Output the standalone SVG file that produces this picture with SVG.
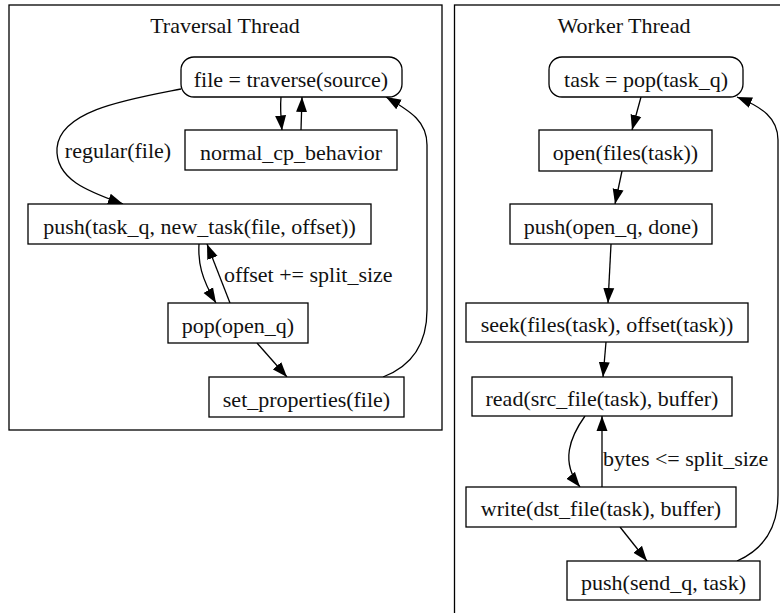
<svg xmlns="http://www.w3.org/2000/svg" width="780" height="613" viewBox="0 0 780 613">
<style>
  .cl{fill:none;stroke:#000;stroke-width:1.3}
  .nd{fill:#fff;stroke:#000;stroke-width:1.3}
  .t{font-family:"Liberation Serif","Times New Roman",serif;font-size:22px;fill:#111;text-anchor:middle}
  .lb{font-family:"Liberation Serif","Times New Roman",serif;font-size:22px;fill:#111}
  .e{fill:none;stroke:#000;stroke-width:1.3;marker-end:url(#ah)}
</style>
<defs>
  <marker id="ah" markerUnits="userSpaceOnUse" markerWidth="16" markerHeight="12" refX="15" refY="6" orient="auto">
    <path d="M0,0.5 L15,6 L0,11.5 z" fill="#000"/>
  </marker>
</defs>
<rect width="780" height="613" fill="#fff"/>
<g id="cluster_traversal">
  <rect class="cl" x="9" y="5" width="433" height="425"/>
  <text class="t" x="225" y="33">Traversal Thread</text>
</g>
<g id="cluster_worker">
  <rect class="cl" x="454.5" y="5" width="360" height="650"/>
  <text class="t" x="624" y="33">Worker Thread</text>
</g>
<g id="connectors">
  <path class="e" d="M281,97 C280,108 281,120 282,130.5"/>
  <path class="e" d="M301,130 L302,97"/>
  <path class="e" d="M181,89 C130,99 60,110 57,148 C55,180 90,192 123,204"/>
  <path class="e" d="M199,244 C198,262 201,278 216,303"/>
  <path class="e" d="M230,303 L207,244"/>
  <path class="e" d="M257,343 L287,377"/>
  <path class="e" d="M383,377 C412,366 427,345 427,310 L427,145 C427,122 412,112 386,97"/>
  <path class="e" d="M641,97 L632,130"/>
  <path class="e" d="M622,171 L615,204"/>
  <path class="e" d="M611,244 L608,303"/>
  <path class="e" d="M606,342 L603,377"/>
  <path class="e" d="M585,416 C570,437 560,462 580,487"/>
  <path class="e" d="M602,487 L602,416"/>
  <path class="e" d="M620,527 L647,561"/>
  <path class="e" d="M737,561 C762,550 778,530 778,495 L778,140 C778,118 762,107 737,97"/>
  <text class="lb" x="118" y="158" text-anchor="middle">regular(file)</text>
  <text class="lb" x="224" y="282">offset += split_size</text>
  <text class="lb" x="603" y="466">bytes &lt;= split_size</text>
</g>
<g id="n_traverse">
  <rect class="nd" x="181" y="57" width="221" height="40" rx="13"/>
  <text class="t" x="291" y="86.5">file = traverse(source)</text>
</g>
<g id="n_normal">
  <rect class="nd" x="185" y="130" width="212" height="40"/>
  <text class="t" x="291" y="159.5">normal_cp_behavior</text>
</g>
<g id="n_pushtask">
  <rect class="nd" x="28" y="204" width="343" height="40"/>
  <text class="t" x="199.5" y="233.5">push(task_q, new_task(file, offset))</text>
</g>
<g id="n_popopen">
  <rect class="nd" x="168" y="303" width="140" height="40"/>
  <text class="t" x="238" y="332.5">pop(open_q)</text>
</g>
<g id="n_setprops">
  <rect class="nd" x="209" y="377" width="195" height="40"/>
  <text class="t" x="306.5" y="406.5">set_properties(file)</text>
</g>
<g id="n_poptask">
  <rect class="nd" x="549" y="57" width="194" height="40" rx="13"/>
  <text class="t" x="646" y="86.5">task = pop(task_q)</text>
</g>
<g id="n_open">
  <rect class="nd" x="539" y="130" width="173" height="41"/>
  <text class="t" x="625.5" y="159.5">open(files(task))</text>
</g>
<g id="n_pushopen">
  <rect class="nd" x="510" y="204" width="202" height="40"/>
  <text class="t" x="611" y="233.5">push(open_q, done)</text>
</g>
<g id="n_seek">
  <rect class="nd" x="466" y="303" width="282" height="39"/>
  <text class="t" x="607" y="332">seek(files(task), offset(task))</text>
</g>
<g id="n_read">
  <rect class="nd" x="472" y="377" width="260" height="39"/>
  <text class="t" x="602" y="406">read(src_file(task), buffer)</text>
</g>
<g id="n_write">
  <rect class="nd" x="466" y="487" width="270" height="40"/>
  <text class="t" x="601" y="515.5">write(dst_file(task), buffer)</text>
</g>
<g id="n_pushsend">
  <rect class="nd" x="567" y="561" width="193" height="39"/>
  <text class="t" x="663.5" y="590">push(send_q, task)</text>
</g>
</svg>
